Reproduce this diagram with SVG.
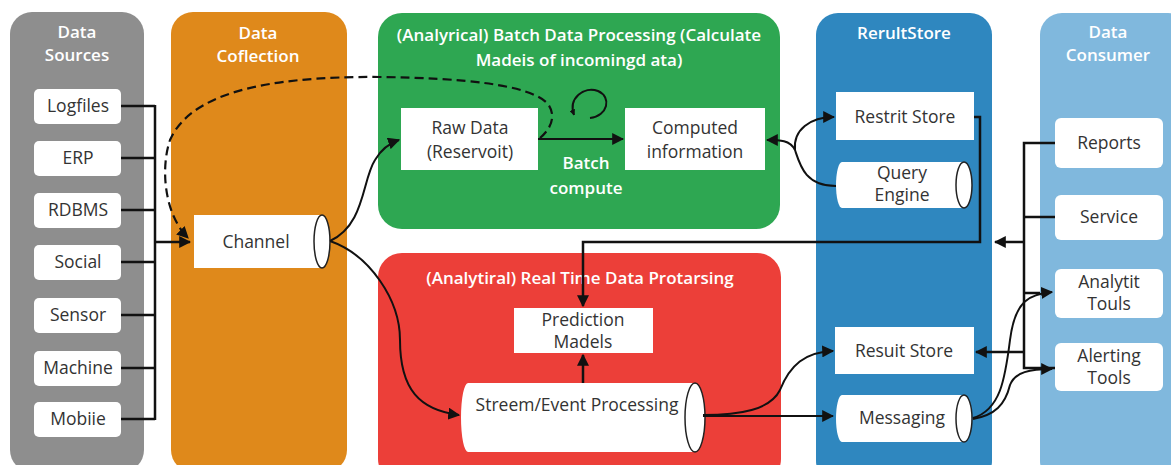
<svg xmlns="http://www.w3.org/2000/svg" width="1171" height="465" viewBox="0 0 1171 465">
<style>
.ttl{font-family:"Open Sans","Noto Sans",sans-serif;font-weight:600;font-size:17px;fill:#fff;text-anchor:middle}
.lbl{font-family:"Open Sans","Noto Sans",sans-serif;font-size:17.5px;fill:#333;text-anchor:middle}
.box{fill:#fff}
.ln{fill:none;stroke:#111;stroke-width:2.5}
.cv{fill:none;stroke:#111;stroke-width:2}
.cyl{fill:none;stroke:#222;stroke-width:1.5}
</style>
<defs>
<marker id="ah" viewBox="0 0 10 10" refX="9" refY="5" markerWidth="6" markerHeight="6" markerUnits="userSpaceOnUse" orient="auto"><path d="M0,0 L10,5 L0,10 z" fill="#111"/></marker>
<marker id="ah2" viewBox="0 0 10 10" refX="9" refY="5" markerWidth="12" markerHeight="12" markerUnits="userSpaceOnUse" orient="auto"><path d="M0,0 L10,5 L0,10 z" fill="#111"/></marker>
</defs>
<rect width="1171" height="465" fill="#fff"/>

<g id="panel-sources">
<rect x="10" y="12" width="134" height="460" rx="22" fill="#8e8e8e"/>
<text class="ttl" x="77" y="38">Data</text>
<text class="ttl" x="77" y="61">Sources</text>
</g>
<g id="panel-collection">
<rect x="171" y="12" width="176" height="460" rx="22" fill="#df891b"/>
<text class="ttl" x="258" y="39">Data</text>
<text class="ttl" x="258" y="62">Coflection</text>
</g>
<g id="panel-batch">
<rect x="378" y="13" width="402" height="216" rx="24" fill="#2ea752"/>
<text class="ttl" x="579" y="41">(Analyrical) Batch Data Processing (Calculate</text>
<text class="ttl" x="579" y="66">Madeis of incomingd ata)</text>
<text class="ttl" x="586" y="169">Batch</text>
<text class="ttl" x="586" y="194">compute</text>
</g>
<g id="panel-realtime">
<rect x="378" y="253" width="403" height="230" rx="24" fill="#ec3f39"/>
<text class="ttl" x="580" y="284">(Analytiral) Real Time Data Protarsing</text>
</g>
<g id="panel-result">
<rect x="816" y="13" width="176" height="470" rx="22" fill="#2f87bf"/>
<text class="ttl" x="904" y="39">RerultStore</text>
</g>
<g id="panel-consumer">
<rect x="1040" y="13" width="150" height="470" rx="22" fill="#80b8dd"/>
<text class="ttl" x="1108" y="38">Data</text>
<text class="ttl" x="1108" y="61">Consumer</text>
</g>

<g id="n-logfiles"><rect class="box" x="34" y="89" width="87" height="35" rx="5"/><text class="lbl" x="78" y="112">Logfiles</text></g>
<g id="n-erp"><rect class="box" x="34" y="141" width="87" height="35" rx="5"/><text class="lbl" x="78" y="164">ERP</text></g>
<g id="n-rdbms"><rect class="box" x="34" y="193" width="87" height="35" rx="5"/><text class="lbl" x="78" y="216">RDBMS</text></g>
<g id="n-social"><rect class="box" x="34" y="245" width="87" height="35" rx="5"/><text class="lbl" x="78" y="268">Social</text></g>
<g id="n-sensor"><rect class="box" x="34" y="298" width="87" height="35" rx="5"/><text class="lbl" x="78" y="321">Sensor</text></g>
<g id="n-machine"><rect class="box" x="34" y="351" width="87" height="35" rx="5"/><text class="lbl" x="78" y="374">Machine</text></g>
<g id="n-mobile"><rect class="box" x="34" y="402" width="87" height="35" rx="5"/><text class="lbl" x="78" y="425">Mobiie</text></g>

<g id="n-channel">
<path class="box" d="M194,215 H322 A8,26 0 0 1 322,268 H194 Z"/>
<ellipse class="cyl" cx="322" cy="241.5" rx="8" ry="26.5"/>
<text class="lbl" x="256" y="248">Channel</text>
</g>

<g id="n-raw"><rect class="box" x="401" y="108" width="137" height="62"/><text class="lbl" x="470" y="134">Raw Data</text><text class="lbl" x="470" y="158">(Reservoit)</text></g>
<g id="n-computed"><rect class="box" x="625" y="108" width="140" height="62"/><text class="lbl" x="695" y="134">Computed</text><text class="lbl" x="695" y="158">information</text></g>

<g id="n-prediction"><rect class="box" x="514" y="308" width="139" height="45"/><text class="lbl" x="583" y="326">Prediction</text><text class="lbl" x="583" y="348">Madels</text></g>
<g id="n-stream">
<path class="box" d="M468,383 H695 A10,34.5 0 0 1 695,452 H468 A7,34.5 0 0 1 468,383 Z"/>
<ellipse class="cyl" cx="695" cy="417.5" rx="10" ry="34.5"/>
<text class="lbl" x="577" y="411">Streem/Event Processing</text>
</g>

<g id="n-restrit"><rect class="box" x="836" y="92" width="138" height="48"/><text class="lbl" x="905" y="123">Restrit Store</text></g>
<g id="n-query">
<path class="box" d="M842,162 H964 A8,23 0 0 1 964,208 H842 A6,23 0 0 1 842,162 Z"/>
<ellipse class="cyl" cx="964" cy="185" rx="8" ry="23"/>
<text class="lbl" x="902" y="179">Query</text>
<text class="lbl" x="902" y="201">Engine</text>
</g>
<g id="n-resuit"><rect class="box" x="835" y="327" width="139" height="47"/><text class="lbl" x="904" y="357">Resuit Store</text></g>
<g id="n-messaging">
<path class="box" d="M842,395 H964 A8,23.5 0 0 1 964,442 H842 A6,23.5 0 0 1 842,395 Z"/>
<ellipse class="cyl" cx="964" cy="418.5" rx="8" ry="23.5"/>
<text class="lbl" x="902" y="424">Messaging</text>
</g>

<g id="n-reports"><rect class="box" x="1055" y="118" width="108" height="50" rx="6"/><text class="lbl" x="1109" y="149">Reports</text></g>
<g id="n-service"><rect class="box" x="1055" y="195" width="108" height="45" rx="6"/><text class="lbl" x="1109" y="223">Service</text></g>
<g id="n-analytit"><rect class="box" x="1055" y="269" width="108" height="49" rx="6"/><text class="lbl" x="1109" y="288">Analytit</text><text class="lbl" x="1109" y="310">Touls</text></g>
<g id="n-alerting"><rect class="box" x="1055" y="343" width="108" height="48" rx="6"/><text class="lbl" x="1109" y="362">Alerting</text><text class="lbl" x="1109" y="384">Tools</text></g>

<g id="connectors">
<path class="ln" d="M121,106 H155 M121,158 H155 M121,210 H155 M121,262 H155 M121,315 H155 M121,368 H155 M121,419 H155 M155,105 V420"/>
<path class="ln" d="M155,242 H190" marker-end="url(#ah2)"/>
<path d="M540,138 C552,128 556,115 548,104 C530,84 460,78 380,77 C260,76 190,95 170,140 C160,170 165,215 188,238" fill="none" stroke="#111" stroke-width="2.2" stroke-dasharray="9,5" marker-end="url(#ah2)"/>
<path class="cv" d="M590,118 C608,116 612,97 598,91 C584,86 568,98 574,115" marker-end="url(#ah)"/>
<path class="cv" d="M330,241 C365,225 362,180 375,160 C382,148 390,143 399,140" marker-end="url(#ah2)"/>
<path class="cv" d="M330,241 C370,255 400,300 400,340 C400,390 420,410 459,415" marker-end="url(#ah2)"/>
<path class="cv" d="M538,139 H623" marker-end="url(#ah2)"/>
<path class="cv" d="M836,186 C805,186 800,165 795,150 C790,140 780,140 767,140" marker-end="url(#ah2)"/>
<path class="cv" d="M795,150 C793,130 810,117 834,117" marker-end="url(#ah2)"/>
<path class="ln" d="M974,117 H980 V242 H583 V306" marker-end="url(#ah2)"/>
<path class="ln" d="M583,383 V355" marker-end="url(#ah2)"/>
<path class="cv" d="M703,415 C740,415 770,410 780,390 C790,365 805,352 833,351" marker-end="url(#ah2)"/>
<path class="cv" d="M703,416 H833" marker-end="url(#ah2)"/>
<path class="ln" d="M1055,143 H1024 V368 H1055 M1024,217 H1055 M1024,293 H1040"/>
<path class="ln" d="M1024,242 H995" marker-end="url(#ah2)"/>
<path class="ln" d="M1024,352 H976" marker-end="url(#ah2)"/>
<path class="cv" d="M973,418 C1000,410 1005,380 1010,340 C1015,300 1030,294 1052,292" marker-end="url(#ah2)"/>
<path class="cv" d="M973,419 C995,415 1005,405 1010,385 C1015,372 1030,369 1052,369" marker-end="url(#ah2)"/>
</g>
</svg>
